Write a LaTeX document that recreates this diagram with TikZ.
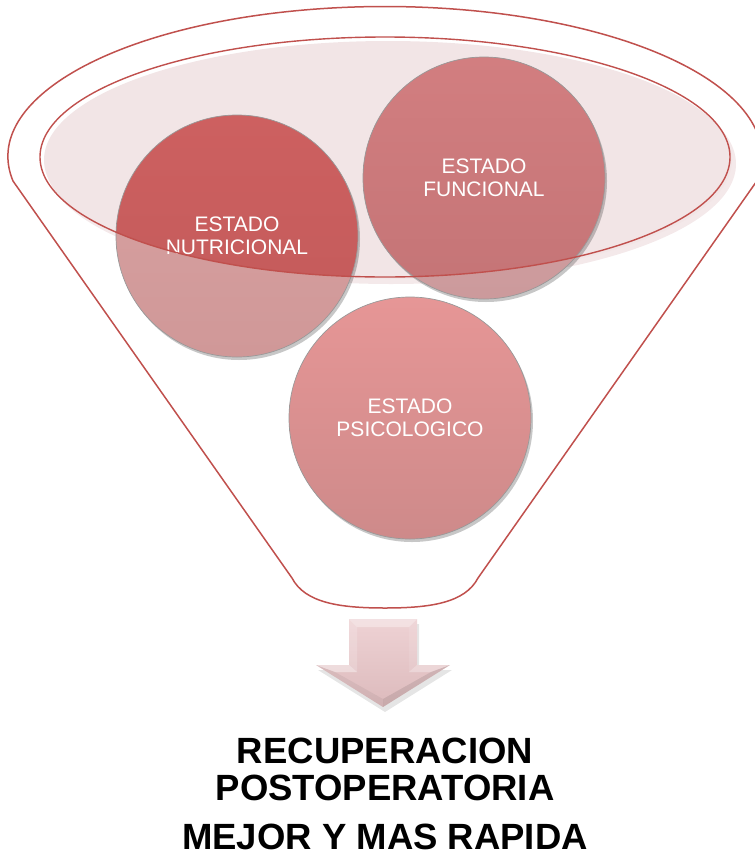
\documentclass[tikz,border=0pt]{standalone}
\usepackage{fontspec}
\setmainfont{Liberation Sans}
\usetikzlibrary{shadows}
\definecolor{funnelred}{HTML}{C0504D}
\definecolor{ellfill}{HTML}{F2E5E6}
\definecolor{nutlight}{HTML}{D8A2A2}
\definecolor{nutlightb}{HTML}{D09898}
\definecolor{nutdarktop}{HTML}{CD6060}
\definecolor{nutdarkbot}{HTML}{C25A5A}
\definecolor{funlight}{HTML}{D4A4A6}
\definecolor{funlightb}{HTML}{CC9A9C}
\definecolor{fundarktop}{HTML}{D27E80}
\definecolor{fundarkbot}{HTML}{C47476}
\definecolor{psitop}{HTML}{E69696}
\definecolor{psibot}{HTML}{CE8A8A}
\definecolor{arrtop}{HTML}{EED2D4}
\definecolor{arrbot}{HTML}{DCBABC}
\begin{document}
\begin{tikzpicture}[x=1pt,y=-1pt,
  funnelline/.style={draw=funnelred, line width=1.5pt},
  bubble/.style={circle, minimum size=242pt, inner sep=0pt, text=white, align=center,
    font=\fontsize{21}{23.5}\selectfont, draw=black!40, line width=0.7pt,
    drop shadow={shadow xshift=2pt, shadow yshift=-3pt, opacity=0.22, fill=black}},
  title/.style={font=\fontsize{36.5}{40}\selectfont\bfseries, anchor=base, inner sep=0pt}]
\clip (0,0) rectangle (755,857);
\coordinate (ellc) at (385,157);
% funnel outline
\draw[funnelline] (13,181) arc[start angle=170.6, end angle=369.4, x radius=377, y radius=150]
  -- (478,578) .. controls (465,603) and (430,608) .. (385,608)
  .. controls (340,608) and (305,603) .. (292,578) -- cycle;
% ellipse fill
\fill[ellfill!85!white] (391,164) ellipse [x radius=345, y radius=120];
\fill[ellfill] (388,160) ellipse [x radius=344, y radius=119];
% bubbles
\node[bubble, top color=nutlight, bottom color=nutlightb,
  path picture={\clip (ellc) ellipse [x radius=345, y radius=120];
    \shade[top color=nutdarktop, bottom color=nutdarkbot]
      (path picture bounding box.north west) rectangle (path picture bounding box.south east);}]
  (nutri) at (237,236) {ESTADO\\NUTRICIONAL};
\node[bubble, top color=funlight, bottom color=funlightb,
  path picture={\clip (ellc) ellipse [x radius=345, y radius=120];
    \shade[top color=fundarktop, bottom color=fundarkbot]
      (path picture bounding box.north west) rectangle (path picture bounding box.south east);}]
  (funci) at (484,178) {ESTADO\\FUNCIONAL};
\node[bubble, top color=psitop, bottom color=psibot] (psico) at (410,418) {ESTADO\\PSICOLOGICO};
% ellipse outline on top
\draw[funnelline, line width=1.4pt] (ellc) ellipse [x radius=345, y radius=120];
% arrow
\coordinate (a1) at (349,619);
\coordinate (a2) at (417,619);
\coordinate (a3) at (417,665);
\coordinate (a4) at (450,665);
\coordinate (a5) at (383,707);
\coordinate (a6) at (316,665);
\coordinate (a7) at (349,665);
\coordinate (b1) at (357,627);
\coordinate (b2) at (409,627);
\coordinate (b3) at (409,672);
\coordinate (b4) at (431,672);
\coordinate (b5) at (383,699);
\coordinate (b6) at (335,672);
\coordinate (b7) at (357,672);
\fill[black, opacity=0.10] ([shift={(2,5)}]a1) -- ([shift={(2,5)}]a2) -- ([shift={(2,5)}]a3) -- ([shift={(2,5)}]a4) -- ([shift={(2,5)}]a5) -- ([shift={(2,5)}]a6) -- ([shift={(2,5)}]a7) -- cycle;
\shade[top color=arrtop, bottom color=arrbot] (a1) -- (a2) -- (a3) -- (a4) -- (a5) -- (a6) -- (a7) -- cycle;
\fill[white, opacity=0.35] (a1) -- (a2) -- (b2) -- (b1) -- cycle;
\fill[white, opacity=0.18] (a1) -- (b1) -- (b7) -- (a7) -- cycle;
\fill[white, opacity=0.10] (a2) -- (a3) -- (b3) -- (b2) -- cycle;
\fill[white, opacity=0.40] (a7) -- (b7) -- (b6) -- (a6) -- cycle;
\fill[white, opacity=0.30] (a3) -- (a4) -- (b4) -- (b3) -- cycle;
\fill[black, opacity=0.05] (a6) -- (b6) -- (b5) -- (a5) -- cycle;
\fill[black, opacity=0.09] (a4) -- (a5) -- (b5) -- (b4) -- cycle;
% titles
\node[title] (t1) at (385,763) {RECUPERACION};
\node[title] (t2) at (385,800) {POSTOPERATORIA};
\node[title] (t3) at (385,849) {MEJOR Y MAS RAPIDA};
\end{tikzpicture}
\end{document}
